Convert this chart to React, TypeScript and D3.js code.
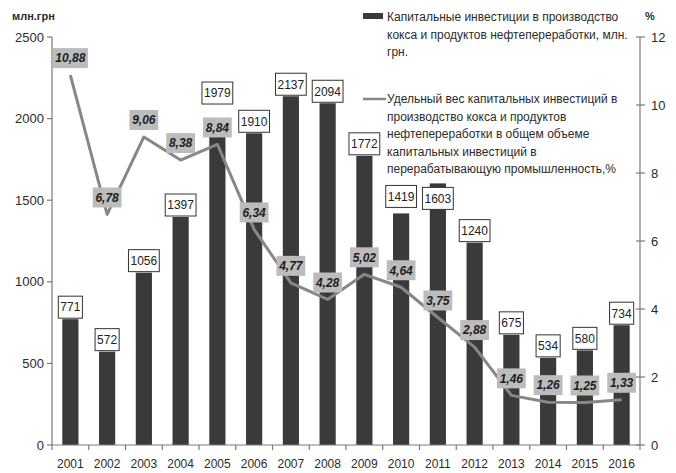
import React from "react";
import * as d3 from "d3";

const years = ["2001","2002","2003","2004","2005","2006","2007","2008","2009","2010","2011","2012","2013","2014","2015","2016"];
const investments = [771, 572, 1056, 1397, 1979, 1910, 2137, 2094, 1772, 1419, 1603, 1240, 675, 534, 580, 734];
const shares = [10.88, 6.78, 9.06, 8.38, 8.84, 6.34, 4.77, 4.28, 5.02, 4.64, 3.75, 2.88, 1.46, 1.26, 1.25, 1.33];
const leftTicks = [0, 500, 1000, 1500, 2000, 2500];
const rightTicks = [0, 2, 4, 6, 8, 10, 12];
// vertical nudges of the value boxes (layout only)
const valueLabelNudge = [0, 0, 0, 0, -17, 0, 0, 0, 0, -5, 27, 0, 0, 0, 0, 0];
const legendBarLines = ["Капитальные инвестиции в производство", "кокса и продуктов нефтепереработки, млн.", "грн."];
const legendLineLines = ["Удельный вес капитальных инвестиций в", "производство кокса и продуктов", "нефтепереработки в общем объеме", "капитальных инвестиций в", "перерабатывающую промышленность,%"];

const W = 676, H = 473;
const left = 52, right = 640, top = 37, bottom = 445;
const font = "'Liberation Sans', Arial, sans-serif";
const textColor = "#2b2b2b";
const axisColor = "#7a7a7a";

export default function App() {
  const x = d3.scaleBand<string>().domain(years).range([left, right]).paddingInner(0.56).paddingOuter(0.28);
  const yL = d3.scaleLinear().domain([0, 2500]).range([bottom, top]);
  const yR = d3.scaleLinear().domain([0, 12]).range([bottom, top]);
  const step = x.step();
  const cx = (y: string) => (x(y) as number) + x.bandwidth() / 2;
  const line = d3.line<number>().x((_, i) => cx(years[i])).y(d => yR(d)).curve(d3.curveLinear);
  const fmt = (v: number) => v.toFixed(2).replace(".", ",");

  return (
    <svg width={W} height={H} style={{ position: "absolute", left: 0, top: 0, background: "#fff" }} fontFamily={font}>
      {/* bars */}
      {investments.map((v, i) => (
        <rect key={"b" + i} x={x(years[i])} y={yL(v)} width={x.bandwidth()} height={bottom - yL(v)} fill="#3a3a3a" />
      ))}
      {/* left axis */}
      <line x1={left} x2={left} y1={top} y2={bottom} stroke={axisColor} strokeWidth={1.2} />
      {leftTicks.map(t => (
        <g key={"l" + t}>
          <line x1={left - 5} x2={left} y1={yL(t)} y2={yL(t)} stroke={axisColor} strokeWidth={1.2} />
          <text x={left - 8} y={yL(t)} dy="0.35em" textAnchor="end" fontSize={13} fill={textColor}>{t}</text>
        </g>
      ))}
      {/* right axis */}
      <line x1={right} x2={right} y1={top} y2={bottom} stroke={axisColor} strokeWidth={1.2} />
      {rightTicks.map(t => (
        <g key={"r" + t}>
          <line x1={right - 4} x2={right + 5} y1={yR(t)} y2={yR(t)} stroke={axisColor} strokeWidth={1.2} />
          <text x={right + 11} y={yR(t)} dy="0.35em" textAnchor="start" fontSize={13} fill={textColor}>{t}</text>
        </g>
      ))}
      {/* x axis */}
      <line x1={left} x2={right} y1={bottom} y2={bottom} stroke={axisColor} strokeWidth={1.2} />
      {years.map((yr, i) => (
        <g key={"x" + yr}>
          <line x1={left + i * step} x2={left + i * step} y1={bottom} y2={bottom + 5} stroke={axisColor} strokeWidth={1.2} />
          <text x={cx(yr)} y={464} dy="0.35em" textAnchor="middle" fontSize={12} fill={textColor}>{yr}</text>
        </g>
      ))}
      <line x1={right} x2={right} y1={bottom} y2={bottom + 5} stroke={axisColor} strokeWidth={1.2} />
      {/* line */}
      <path d={line(shares) || ""} fill="none" stroke="#878787" strokeWidth={3} strokeLinejoin="round" />
      {/* value labels */}
      {investments.map((v, i) => {
        const s = String(v);
        const w = s.length * 6.7 + 4;
        const h = 22;
        const yb = yL(v) - 1 + valueLabelNudge[i];
        return (
          <g key={"v" + i}>
            <rect x={cx(years[i]) - w / 2} y={yb - h} width={w} height={h} fill="#fff" stroke="#333" strokeWidth={1} />
            <text x={cx(years[i])} y={yb - h / 2} dy="0.36em" textAnchor="middle" fontSize={12} fill="#222">{s}</text>
          </g>
        );
      })}
      {/* percent labels */}
      {shares.map((v, i) => {
        const s = fmt(v);
        const w = s.length * 6.2 + 4;
        const h = 20;
        const yc = yR(v) - 17;
        return (
          <g key={"p" + i}>
            <rect x={cx(years[i]) - w / 2} y={yc - h / 2} width={w} height={h} fill="#bcbcbc" />
            <text x={cx(years[i])} y={yc} dy="0.36em" textAnchor="middle" fontSize={12} fontWeight="bold" fontStyle="italic" fill="#1e1e1e">{s}</text>
          </g>
        );
      })}
      {/* axis titles */}
      <text x={12} y={16} dy="0.35em" fontSize={11} fontWeight="bold" fill={textColor}>млн.грн</text>
      <text x={645} y={16} dy="0.35em" fontSize={11} fontWeight="bold" fill={textColor}>%</text>
      {/* legend */}
      <rect x={363} y={13} width={20} height={6} fill="#3a3a3a" />
      {legendBarLines.map((t, i) => (
        <text key={"lb" + i} x={387} y={17 + i * 17.5} dy="0.35em" fontSize={12} fill={textColor}>{t}</text>
      ))}
      <line x1={363} x2={386} y1={99} y2={99} stroke="#878787" strokeWidth={2.5} />
      {legendLineLines.map((t, i) => (
        <text key={"ll" + i} x={387} y={99 + i * 17.5} dy="0.35em" fontSize={12} fill={textColor}>{t}</text>
      ))}
    </svg>
  );
}
